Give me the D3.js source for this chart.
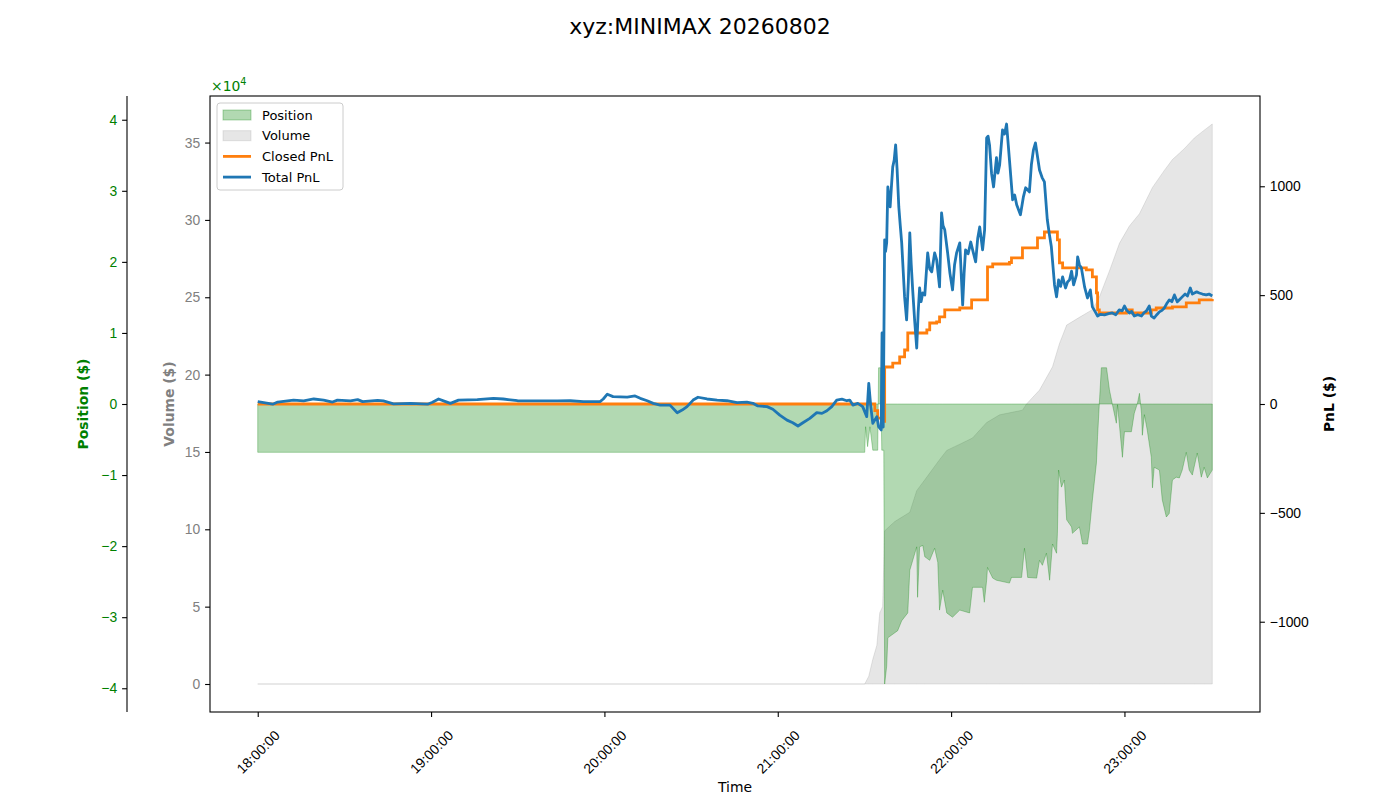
<!DOCTYPE html>
<html>
<head>
<meta charset="utf-8">
<script src="https://cdn.jsdelivr.net/npm/d3@7"></script>
<style>
  body { margin: 0; background: #fff; }
  svg { font-family: "DejaVu Sans", sans-serif; }
</style>
</head>
<body>
<div id="chart"></div>
<script>
/* PnL chart: position, volume, closed and total PnL over one session */

// times are minutes after 18:00
const posTimes = [0, 210.1, 210.4, 211.1, 211.9, 212.9, 214.6, 214.9, 215.6, 216.0, 216.7, 217.0, 217.7, 218.1, 221.5, 222.9,
  225.0, 225.7, 228.1, 228.4, 229.1, 230.2, 230.9, 232.6, 234.3, 235.4, 236.0, 237.1, 238.5, 240.5, 243.0, 246.4,
  247.4, 250.9, 251.5, 252.3, 252.6, 254.4, 255.7, 260.2, 260.9, 264.4, 265.4, 266.5, 269.6, 270.6, 271.6, 273.0,
  274.1, 275.1, 276.5, 276.8, 277.2, 278.2, 279.2, 280.0, 281.7, 282.0, 284.4, 285.5, 287.2, 287.9, 288.9, 290.3,
  290.7, 291.3, 292.0, 293.8, 294.8, 295.8, 297.2, 297.6, 299.3, 300.0, 302.4, 303.4, 304.5, 305.2, 305.9, 306.2,
  306.9, 307.9, 309.3, 309.7, 310.3, 312.1, 313.1, 314.5, 315.5, 316.6, 317.9, 319.0, 320.0, 321.4, 322.4, 323.5,
  325.2, 326.6, 327.6, 328.7, 330.4];
// position, x10^4 $
const posValues = [-0.68, -0.68, -0.32, -0.60, -0.32, -0.65, -0.65, 0.51, 0.51, -0.65, -0.65, -3.94, -3.69, -3.29, -3.19, -3.05,
  -2.94, -2.34, -2.01, -2.72, -2.01, -1.99, -2.15, -2.20, -2.03, -2.23, -2.90, -2.62, -2.94, -3.00, -2.90, -2.94,
  -2.58, -2.58, -2.79, -2.48, -2.30, -2.45, -2.48, -2.52, -2.44, -2.44, -2.03, -2.44, -2.45, -2.20, -2.27, -2.10,
  -2.48, -1.97, -2.10, -1.82, -0.93, -1.17, -1.07, -1.63, -1.73, -1.82, -1.73, -1.97, -1.97, -1.77, -1.35, -0.83,
  -0.46, 0, 0.51, 0.51, 0.20, 0.0, -0.27, -0.01, -0.75, -0.39, -0.39, -0.13, 0.01, 0.15, -0.13, -0.44,
  -0.15, -0.37, -0.75, -1.18, -0.89, -0.93, -1.35, -1.59, -1.54, -1.07, -1.03, -1.04, -0.93, -0.68, -0.93, -1.00,
  -0.69, -1.03, -0.89, -1.04, -0.93];

const volTimes = [0, 210.1, 211.5, 212.9, 214.3, 215.3, 216.3, 217.0, 220.5, 225.7, 228.1, 230.9, 236.0, 238.5, 243.0, 247.4,
  252.3, 256.8, 264.7, 266.1, 270.6, 275.1, 277.5, 280.0, 284.4, 288.9, 291.3, 294.8, 298.3, 301.7, 305.2, 309.7,
  313.8, 316.6, 320.7, 324.2, 327.6, 330.4];
// cumulative volume, x10^4 $
const volValues = [0, 0, 0.5, 1.6, 2.5, 4.6, 5.0, 9.9, 10.5, 11.1, 12.5, 13.2, 14.5, 15.1, 15.5, 15.9,
  16.9, 17.4, 17.7, 18.1, 19.0, 20.5, 22.0, 23.2, 23.7, 24.2, 25.0, 26.7, 28.5, 29.6, 30.4, 32.1,
  33.2, 33.9, 34.6, 35.3, 35.8, 36.2];

const closedTimes = [0, 213.6, 214.6, 216.8, 217.0, 219.8, 222.2, 223.9, 225.0, 231.6, 232.6, 235.0, 236.0, 237.8, 243.0, 247.1,
  252.6, 254.4, 260.2, 260.9, 264.7, 269.9, 272.3, 276.8, 277.5, 278.6, 286.8, 288.9, 290.3, 290.7, 291.3, 300.7,
  302.7, 309.3, 311.0, 316.6, 321.4, 325.9, 330.4];
const closedPnl = [0, -30, -65, -80, 170, 188, 216, 248, 326, 340, 372, 377, 400, 432, 441, 478,
  630, 643, 650, 671, 717, 763, 790, 754, 648, 625, 616, 584, 510, 432, 418, 432,
  418, 432, 441, 446, 464, 478, 482];

const totalTimes = [0, 5.2, 6.9, 12.4, 15.9, 19.4, 22.8, 25.9, 27.6, 32.1, 34.6, 36.3, 41.5, 43.5, 47.0, 52.9,
  58.8, 60.5, 62.6, 65.0, 66.7, 69.5, 76.0, 81.6, 85.0, 89.9, 96.8, 103.7, 108.2, 112.7, 118.5, 119.6,
  121.0, 123.0, 127.9, 130.6, 132.4, 134.8, 136.9, 139.3, 142.7, 145.2, 146.9, 148.6, 150.7, 152.4, 155.5, 159.0,
  162.4, 165.9, 169.3, 171.4, 173.1, 176.3, 178.3, 180.7, 183.2, 185.2, 187.0, 188.7, 191.1, 193.5, 195.3, 197.0,
  198.7, 200.4, 202.2, 203.9, 204.9, 206.0, 207.7, 209.4, 210.8, 211.5, 212.2, 212.9, 214.3, 214.9, 215.8, 216.1,
  216.5, 217.0, 217.3, 217.7, 218.1, 218.5, 218.9, 219.4, 219.8, 220.3, 220.8, 221.3, 221.9, 222.4, 222.9, 223.9,
  224.6, 225.2, 225.7, 226.2, 226.7, 227.4, 228.1, 228.6, 229.1, 229.6, 230.2, 230.9, 231.4, 231.9, 232.6, 233.3,
  234.3, 235.0, 235.5, 236.0, 236.7, 237.2, 237.8, 238.8, 239.6, 240.5, 241.2, 241.9, 243.0, 244.0, 244.5, 245.0,
  245.9, 246.8, 247.6, 248.5, 249.2, 249.9, 250.9, 251.6, 252.3, 252.8, 253.3, 254.0, 254.7, 255.7, 256.2, 256.8,
  257.8, 258.5, 259.2, 260.2, 261.3, 262.0, 262.7, 264.0, 265.0, 265.8, 267.1, 267.8, 268.5, 269.2, 270.6, 271.5,
  272.3, 273.3, 274.0, 274.7, 275.8, 276.5, 277.2, 277.9, 278.6, 279.6, 280.3, 281.0, 281.7, 282.4, 283.4, 283.8,
  284.4, 285.1, 286.2, 287.2, 288.2, 288.9, 289.9, 290.7, 291.7, 293.1, 294.5, 295.8, 297.0, 298.2, 299.2, 300.0,
  300.8, 301.7, 302.5, 303.4, 304.6, 305.9, 306.8, 307.6, 308.6, 309.3, 310.3, 311.2, 312.1, 313.0, 313.8, 314.6,
  315.5, 316.4, 317.3, 318.3, 319.1, 320.0, 321.0, 321.8, 322.8, 323.5, 324.2, 325.0, 325.9, 327.0, 328.3, 329.3,
  330.4];
const totalPnl = [11, -1, 9, 18, 14, 23, 18, 9, 18, 14, 20, 11, 17, 14, 1, 3,
  -1, 8, 23, 11, 3, 18, 20, 26, 23, 15, 14, 14, 15, 11, 11, 23,
  45, 34, 32, 37, 26, 15, 3, -5, -5, -40, -28, -12, 18, 31, 23, 18,
  15, 6, 9, 3, -9, -12, -24, -51, -74, -86, -101, -86, -66, -40, -43, -31,
  -12, 18, 22, 15, 18, -5, 3, -12, -58, 95, -12, -89, -58, -104, -119, 326,
  -106, 754, 700, 740, 997, 950, 905, 1010, 1089, 1120, 1190, 1080, 905, 820, 740, 492,
  386, 560, 786, 640, 524, 380, 257, 420, 533, 470, 510, 501, 600, 694, 620, 607,
  694, 662, 600, 538, 878, 820, 800, 694, 600, 524, 640, 694, 740, 455, 600, 708,
  690, 744, 700, 653, 760, 813, 708, 800, 1222, 1230, 1190, 1060, 997, 1131, 1060, 1098,
  1259, 1240, 1286, 1121, 938, 960, 915, 869, 950, 993, 974, 1100, 1167, 1199, 1075, 1040,
  1020, 846, 780, 722, 547, 492, 570, 540, 584, 533, 560, 570, 610, 547, 593, 676,
  640, 625, 538, 487, 524, 446, 423, 404, 412, 409, 415, 418, 410, 432, 428, 450,
  430, 418, 425, 404, 410, 404, 420, 427, 450, 404, 395, 410, 423, 430, 441, 460,
  478, 470, 501, 469, 480, 492, 505, 496, 533, 505, 510, 515, 510, 505, 501, 505,
  496];

const posTicks = [-4, -3, -2, -1, 0, 1, 2, 3, 4];
const volTicks = [0, 5, 10, 15, 20, 25, 30, 35];
const pnlTicks = [-1000, -500, 0, 500, 1000];

const W = 1400, H = 800;
const plot = { left: 210, right: 1260, top: 96, bottom: 712 };
const FS = 13.9;

const base = new Date(2026, 7, 2, 18, 0, 0);
const toDate = m => new Date(base.getTime() + m * 60000);

const posData = posTimes.map((t, i) => ({ t: toDate(t), v: posValues[i] }));
const volData = volTimes.map((t, i) => ({ t: toDate(t), v: volValues[i] }));
const closedData = closedTimes.map((t, i) => ({ t: toDate(t), v: closedPnl[i] }));
const totalData = totalTimes.map((t, i) => ({ t: toDate(t), v: totalPnl[i] }));

// matplotlib-like 5% margins on time and volume
const tExt = d3.extent(totalTimes);
const tPad = (tExt[1] - tExt[0]) * 0.05;
const x = d3.scaleTime()
  .domain([toDate(tExt[0] - tPad), toDate(tExt[1] + tPad)])
  .range([plot.left, plot.right]);

const vMax = d3.max(volValues);
const yVol = d3.scaleLinear().domain([-vMax * 0.05, vMax * 1.05]).range([plot.bottom, plot.top]);

// symmetric limits around zero
const pLim = d3.max(posValues, d => Math.abs(d)) * 1.1;
const yPos = d3.scaleLinear().domain([-pLim, pLim]).range([plot.bottom, plot.top]);
const nLim = d3.max(totalPnl.concat(closedPnl), d => Math.abs(d)) * 1.1;
const yPnl = d3.scaleLinear().domain([-nLim, nLim]).range([plot.bottom, plot.top]);

const svg = d3.select("#chart").append("svg")
  .attr("width", W)
  .attr("height", H);

svg.append("rect").attr("width", W).attr("height", H).attr("fill", "#fff");

// Title
svg.append("text")
  .attr("x", W / 2)
  .attr("y", 34)
  .attr("text-anchor", "middle")
  .style("font-size", "22px")
  .text("xyz:MINIMAX 20260802");

// Volume area (behind)
const volArea = d3.area()
  .x(d => x(d.t))
  .y0(yVol(0))
  .y1(d => yVol(d.v));

svg.append("path")
  .datum(volData)
  .attr("d", volArea)
  .attr("fill", "rgba(128,128,128,0.2)")
  .attr("stroke", "rgba(128,128,128,0.2)")
  .attr("stroke-width", 1);

// Position area
const posArea = d3.area()
  .x(d => x(d.t))
  .y0(yPos(0))
  .y1(d => yPos(d.v));

svg.append("path")
  .datum(posData)
  .attr("d", posArea)
  .attr("fill", "rgba(0,128,0,0.3)")
  .attr("stroke", "rgba(0,128,0,0.3)")
  .attr("stroke-width", 1);

// PnL lines
svg.append("path")
  .datum(closedData)
  .attr("d", d3.line().x(d => x(d.t)).y(d => yPnl(d.v)).curve(d3.curveStepAfter))
  .attr("fill", "none")
  .attr("stroke", "#ff7f0e")
  .attr("stroke-width", 2.8);

svg.append("path")
  .datum(totalData)
  .attr("d", d3.line().x(d => x(d.t)).y(d => yPnl(d.v)))
  .attr("fill", "none")
  .attr("stroke", "#1f77b4")
  .attr("stroke-width", 2.8)
  .attr("stroke-linejoin", "round");

// Frame
svg.append("rect")
  .attr("x", plot.left)
  .attr("y", plot.top)
  .attr("width", plot.right - plot.left)
  .attr("height", plot.bottom - plot.top)
  .attr("fill", "none")
  .attr("stroke", "#000")
  .attr("stroke-width", 1.1);

function styleAxis(g, color) {
  g.select(".domain").remove();
  g.selectAll(".tick line").attr("stroke", "#000").attr("stroke-width", 1.1);
  g.selectAll(".tick text").attr("fill", color).style("font-size", FS + "px");
}

// X axis
const xAxis = svg.append("g")
  .attr("transform", `translate(0,${plot.bottom})`)
  .call(d3.axisBottom(x)
    .ticks(d3.timeHour.every(1))
    .tickFormat(d3.timeFormat("%H:%M:%S"))
    .tickSize(4.9));
styleAxis(xAxis, "#000");
xAxis.selectAll(".tick text")
  .attr("y", 0)
  .attr("dy", "0.35em")
  .attr("text-anchor", "middle")
  .attr("transform", "translate(0,40) rotate(-45)");

svg.append("text")
  .attr("x", (plot.left + plot.right) / 2)
  .attr("y", 792)
  .attr("text-anchor", "middle")
  .style("font-size", FS + "px")
  .text("Time");

// Volume axis (inner left)
const volAxis = svg.append("g")
  .attr("transform", `translate(${plot.left},0)`)
  .call(d3.axisLeft(yVol).tickValues(volTicks).tickSize(4.9).tickPadding(4.9));
styleAxis(volAxis, "#808080");

svg.append("text")
  .attr("transform", `translate(174,${(plot.top + plot.bottom) / 2}) rotate(-90)`)
  .attr("text-anchor", "middle")
  .style("font-size", FS + "px")
  .style("font-weight", "bold")
  .attr("fill", "#808080")
  .text("Volume ($)");

// Position axis (outer left)
const posX = 127;
const posAxis = svg.append("g")
  .attr("transform", `translate(${posX},0)`)
  .call(d3.axisLeft(yPos).tickValues(posTicks).tickFormat(d3.format("d")).tickSize(4.9).tickPadding(4.9));
styleAxis(posAxis, "#008000");
svg.append("line")
  .attr("x1", posX).attr("x2", posX)
  .attr("y1", plot.top).attr("y2", plot.bottom)
  .attr("stroke", "#000")
  .attr("stroke-width", 1.1);

svg.append("text")
  .attr("transform", `translate(88,${(plot.top + plot.bottom) / 2}) rotate(-90)`)
  .attr("text-anchor", "middle")
  .style("font-size", FS + "px")
  .style("font-weight", "bold")
  .attr("fill", "#008000")
  .text("Position ($)");

// offset text for position axis
const off = svg.append("text")
  .attr("x", plot.left + 1)
  .attr("y", 91)
  .attr("fill", "#008000")
  .style("font-size", FS + "px");
off.append("tspan").text("\u00d710");
off.append("tspan").attr("dy", -6).style("font-size", "9.7px").text("4");

// PnL axis (right)
const pnlAxis = svg.append("g")
  .attr("transform", `translate(${plot.right},0)`)
  .call(d3.axisRight(yPnl).tickValues(pnlTicks).tickFormat(d3.format("d")).tickSize(4.9).tickPadding(4.9));
styleAxis(pnlAxis, "#000");

svg.append("text")
  .attr("transform", `translate(1334,${(plot.top + plot.bottom) / 2}) rotate(-90)`)
  .attr("text-anchor", "middle")
  .style("font-size", FS + "px")
  .style("font-weight", "bold")
  .text("PnL ($)");

// Legend
const legendItems = [
  { label: "Position", type: "patch", fill: "rgba(0,128,0,0.3)" },
  { label: "Volume", type: "patch", fill: "rgba(128,128,128,0.2)" },
  { label: "Closed PnL", type: "line", color: "#ff7f0e" },
  { label: "Total PnL", type: "line", color: "#1f77b4" }
];

const legendG = svg.append("g").attr("transform", "translate(217,103)");
legendG.append("rect")
  .attr("width", 126)
  .attr("height", 87)
  .attr("rx", 3)
  .attr("fill", "rgba(255,255,255,0.8)")
  .attr("stroke", "#ccc")
  .attr("stroke-width", 1);

const li = legendG.selectAll(".legend-item")
  .data(legendItems)
  .enter()
  .append("g")
  .attr("class", "legend-item")
  .attr("transform", (d, i) => `translate(0,${12 + i * 20.7})`);

li.filter(d => d.type === "patch").append("rect")
  .attr("x", 6)
  .attr("y", -5)
  .attr("width", 28)
  .attr("height", 10)
  .attr("fill", d => d.fill)
  .attr("stroke", d => d.fill);

li.filter(d => d.type === "line").append("line")
  .attr("x1", 6)
  .attr("x2", 34)
  .attr("stroke", d => d.color)
  .attr("stroke-width", 2.8);

li.append("text")
  .attr("x", 45)
  .attr("dy", "0.35em")
  .style("font-size", "13px")
  .text(d => d.label);
</script>
</body>
</html>
